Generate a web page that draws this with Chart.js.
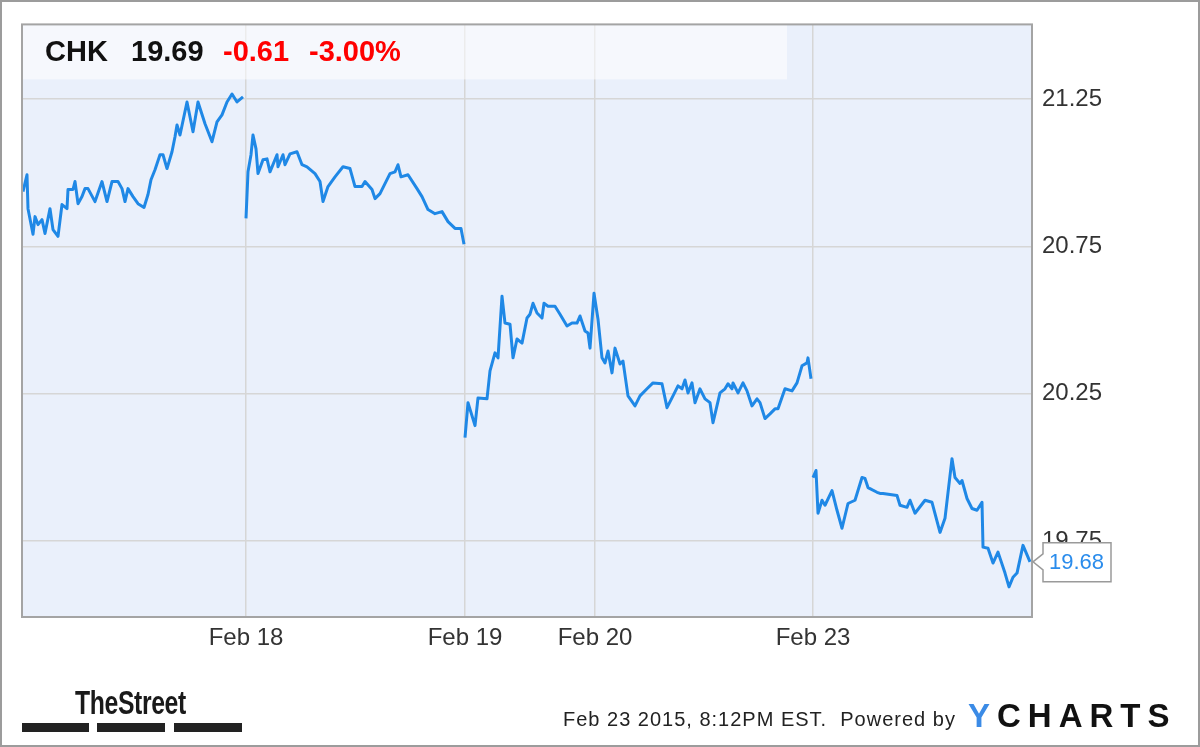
<!DOCTYPE html>
<html lang="en">
<head>
  <meta charset="UTF-8" />
  <title>CHK - YCharts</title>
  <script src="https://cdn.jsdelivr.net/npm/chart.js"></script>
  <style>
    html, body { margin: 0; padding: 0; background: #fff; }
    .frame {
      position: relative; width: 1200px; height: 747px;
      box-sizing: border-box; border: 2px solid #9c9c9c;
      font-family: "Liberation Sans", Arial, sans-serif;
      overflow: hidden;
    }
    #chk { position: absolute; left: -2px; top: -2px; }
    .t { position: absolute; white-space: nowrap; line-height: 1; }
    .hdr { font-size: 29px; font-weight: bold; top: 35px; color: #111; }
    .neg { color: #f00; }
    .street {
      left: 73px; top: 684px; font-size: 33px; font-weight: bold; letter-spacing: -0.5px;
      transform: scaleX(0.75); transform-origin: 0 0; color: #1a1a1a;
    }
    .bar { position: absolute; top: 721px; height: 9px; background: #222; }
    .stamp { left: 561px; top: 707px; font-size: 20px; letter-spacing: 1px; color: #222; }
    .ych { left: 966px; top: 697px; font-size: 33px; font-weight: bold; letter-spacing: 7px; color: #111; }
    .ych span { color: #3b8be6; }
  </style>
</head>
<body>
  <div class="frame">
    <canvas id="chk" width="1200" height="747"></canvas>

    <div class="t hdr" style="left:43px">CHK</div>
    <div class="t hdr" style="left:129px">19.69</div>
    <div class="t hdr neg" style="left:221px">-0.61</div>
    <div class="t hdr neg" style="left:307px">-3.00%</div>

    <div class="t street">TheStreet</div>
    <div class="bar" style="left:20px;width:67px"></div>
    <div class="bar" style="left:95px;width:68px"></div>
    <div class="bar" style="left:172px;width:68px"></div>

    <div class="t stamp">Feb 23 2015, 8:12PM EST.&nbsp; Powered by</div>
    <div class="t ych"><span>Y</span>CHARTS</div>
  </div>

  <script>
    // session time index (0 = Feb 17 open, 1010 = right edge of the chart)
    const feb17Time = [1, 5, 6, 11, 13, 16, 20, 23, 28, 31, 36, 40, 45, 46, 51, 53, 56, 60, 63, 66,
      73, 80, 85, 90, 96, 100, 103, 106, 111, 116, 122, 126, 129, 133, 138, 141, 145, 150, 153, 155,
      158, 165, 171, 176, 183, 190, 195, 200, 205, 210, 215, 221];
    const feb17Price = [20.936, 20.993, 20.878, 20.791, 20.851, 20.824, 20.841, 20.794, 20.878, 20.807,
      20.784, 20.892, 20.878, 20.943, 20.943, 20.970, 20.895, 20.919, 20.946, 20.946,
      20.902, 20.970, 20.902, 20.970, 20.970, 20.946, 20.902, 20.946, 20.919, 20.895,
      20.882, 20.926, 20.976, 21.010, 21.061, 21.061, 21.014, 21.071, 21.122, 21.162,
      21.128, 21.240, 21.139, 21.240, 21.166, 21.105, 21.172, 21.196, 21.240, 21.267, 21.240, 21.257];

    const feb18Time = [224, 226, 229, 231, 234, 236, 241, 245, 248, 255, 256, 261, 263, 268, 275, 280, 285, 293, 298, 301,
      306, 313, 321, 328, 333, 340, 343, 350, 353, 358, 368, 373, 376, 379, 386, 395, 400, 406, 413, 420,
      426, 433, 439, 442];
    const feb18Price = [20.845, 21.003, 21.061, 21.128, 21.081, 20.997, 21.044, 21.047, 21.003, 21.061,
      21.020, 21.061, 21.027, 21.064, 21.071, 21.027, 21.020, 20.997, 20.970, 20.902,
      20.953, 20.986, 21.020, 21.014, 20.953, 20.953, 20.970, 20.943, 20.912, 20.929,
      20.997, 21.003, 21.027, 20.986, 20.993, 20.946, 20.919, 20.875, 20.861, 20.868,
      20.834, 20.811, 20.811, 20.757];

    const feb19Time = [443, 446, 453, 456, 465, 468, 473, 476, 480, 483, 488, 491, 495, 500, 505, 508, 511, 515, 520, 522,
      526, 533, 538, 545, 550, 555, 558, 563, 566, 568, 572, 576, 580, 583, 586, 590, 593, 598, 601, 606,
      613, 618, 625, 631, 640, 645, 651, 656, 660, 663, 666, 670, 673, 678, 683, 688, 691, 698, 703, 706,
      710, 711, 716, 721, 725, 730, 735, 738, 743, 748, 753, 756, 763, 770, 775, 780, 785, 786, 789];
    const feb19Price = [20.101, 20.220, 20.142, 20.236, 20.233, 20.328, 20.389, 20.372, 20.581, 20.490,
      20.486, 20.372, 20.436, 20.422, 20.507, 20.520, 20.557, 20.524, 20.507, 20.557,
      20.547, 20.547, 20.520, 20.480, 20.490, 20.490, 20.514, 20.463, 20.456, 20.405,
      20.591, 20.503, 20.372, 20.355, 20.395, 20.321, 20.405, 20.351, 20.361, 20.243,
      20.209, 20.243, 20.267, 20.287, 20.284, 20.203, 20.243, 20.277, 20.267, 20.297,
      20.253, 20.287, 20.220, 20.267, 20.233, 20.220, 20.152, 20.253, 20.267, 20.284,
      20.267, 20.287, 20.253, 20.287, 20.260, 20.209, 20.233, 20.220, 20.166, 20.182,
      20.199, 20.199, 20.267, 20.260, 20.287, 20.345, 20.355, 20.372, 20.301];

    const feb23Time = [791, 794, 796, 800, 803, 810, 815, 820, 826, 833, 840, 843, 846, 855, 858, 861, 875, 878, 885, 888,
      893, 903, 910, 918, 923, 930, 933, 938, 940, 945, 950, 955, 960, 961, 966, 971, 976, 983, 987, 991,
      995, 1001, 1008];
    const feb23Price = [19.966, 19.990, 19.845, 19.889, 19.872, 19.922, 19.855, 19.794, 19.878, 19.889,
      19.966, 19.963, 19.932, 19.916, 19.912, 19.912, 19.905, 19.872, 19.865, 19.889,
      19.845, 19.889, 19.882, 19.780, 19.828, 20.030, 19.966, 19.946, 19.956, 19.895,
      19.861, 19.855, 19.882, 19.730, 19.726, 19.676, 19.713, 19.642, 19.595, 19.628,
      19.642, 19.736, 19.68];

    const xTickPos = [224, 443, 573, 791];
    const xTickLabels = ["Feb 18", "Feb 19", "Feb 20", "Feb 23"];
    const yTicks = [19.75, 20.25, 20.75, 21.25];
    const lastPrice = 19.68;

    // join the sessions, leaving a break between them
    const sessions = [[feb17Time, feb17Price], [feb18Time, feb18Price], [feb19Time, feb19Price], [feb23Time, feb23Price]];
    const points = [];
    sessions.forEach(([t, p], i) => {
      if (i > 0) points.push({ x: t[0] - 0.5, y: null });
      t.forEach((x, j) => points.push({ x: x, y: p[j] }));
    });

    const chartFrame = {
      id: "chartFrame",
      beforeDraw(chart) {
        const { ctx, chartArea: a } = chart;
        ctx.save();
        ctx.fillStyle = "#eaf0fb";
        ctx.fillRect(a.left, a.top, a.right - a.left, a.bottom - a.top);
        ctx.restore();
      },
      beforeDatasetsDraw(chart) {
        const { ctx, chartArea: a } = chart;
        ctx.save();
        ctx.fillStyle = "rgba(255,255,255,0.55)";
        ctx.fillRect(a.left, a.top, 765, 55);
        ctx.restore();
      },
      afterDraw(chart) {
        const { ctx, chartArea: a } = chart;
        const y = chart.scales.y.getPixelForValue(lastPrice);
        ctx.save();
        ctx.strokeStyle = "#a4a4a4";
        ctx.lineWidth = 2;
        ctx.strokeRect(a.left, a.top, a.right - a.left, a.bottom - a.top);

        // last price callout
        const bx = a.right + 11;
        ctx.beginPath();
        ctx.moveTo(bx, y - 8);
        ctx.lineTo(bx, y - 19);
        ctx.lineTo(bx + 68, y - 19);
        ctx.lineTo(bx + 68, y + 20);
        ctx.lineTo(bx, y + 20);
        ctx.lineTo(bx, y + 8);
        ctx.lineTo(a.right + 1, y);
        ctx.closePath();
        ctx.fillStyle = "#fff";
        ctx.fill();
        ctx.strokeStyle = "#9a9a9a";
        ctx.lineWidth = 1.5;
        ctx.stroke();
        ctx.fillStyle = "#2a8cec";
        ctx.font = '22px "Liberation Sans", Arial, sans-serif';
        ctx.textBaseline = "middle";
        ctx.fillText(lastPrice.toFixed(2), bx + 6, y + 1);
        ctx.restore();
      }
    };

    new Chart(document.getElementById("chk"), {
      type: "line",
      data: {
        datasets: [{
          data: points,
          borderColor: "#1f88e6",
          borderWidth: 3,
          pointRadius: 0,
          tension: 0,
          spanGaps: false,
          borderJoinStyle: "round"
        }]
      },
      options: {
        responsive: false,
        animation: false,
        devicePixelRatio: 1,
        layout: { padding: { left: 22, top: 22, right: 0, bottom: 0 } },
        plugins: { legend: { display: false }, tooltip: { enabled: false } },
        scales: {
          x: {
            type: "linear",
            min: 0,
            max: 1010,
            afterBuildTicks: s => { s.ticks = xTickPos.map(v => ({ value: v })); },
            afterFit: s => { s.height = 130; },
            grid: { color: "#d6d6d6", lineWidth: 1.5, drawTicks: false },
            border: { display: false },
            ticks: {
              autoSkip: false, maxRotation: 0, padding: 7, color: "#333",
              font: { family: "Liberation Sans", size: 24 },
              callback: v => xTickLabels[xTickPos.indexOf(v)]
            }
          },
          y: {
            position: "right",
            min: 19.493,
            max: 21.503,
            afterBuildTicks: s => { s.ticks = yTicks.map(v => ({ value: v })); },
            afterFit: s => { s.width = 168; },
            grid: { color: "#d6d6d6", lineWidth: 1.5, drawTicks: false },
            border: { display: false },
            ticks: {
              padding: 10, color: "#333",
              font: { family: "Liberation Sans", size: 24 },
              callback: v => v.toFixed(2)
            }
          }
        }
      },
      plugins: [chartFrame]
    });
  </script>
</body>
</html>
